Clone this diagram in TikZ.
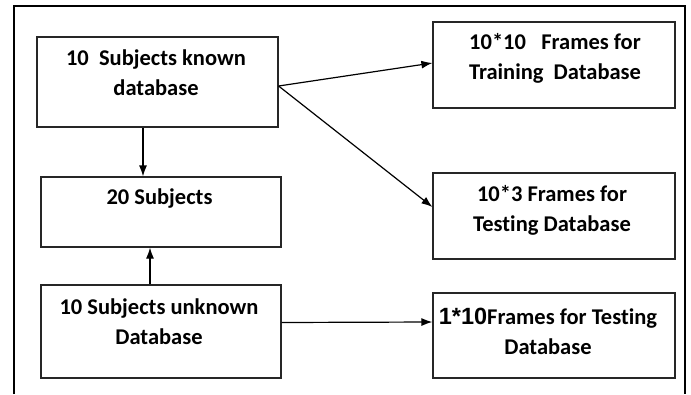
\documentclass[tikz,border=0pt]{standalone}
\usepackage{fontspec}
\setmainfont{Carlito}[Ligatures=NoCommon]
\newfontfamily\arialfont{Liberation Sans}
\usetikzlibrary{arrows.meta, positioning, calc}
\tikzset{
    %Define standard arrow tip
    >={Latex[length=11pt,width=8pt]},
    %Define style for boxes
    cadre/.style={
           rectangle,
           draw=black!85, line width=1.2pt,
           minimum width=241pt,
           minimum height=86pt},
    % Define style for the texts in the boxes
    texte/.style={
           inner sep=0pt,
           align=center,
           font=\bfseries\fontsize{22.5}{30}\selectfont},
    % Define arrow style
    fleche/.style={
           ->,
           line width=1.2pt}
}

\begin{document}
\begin{tikzpicture}[x=1pt, y=-1pt]
	\useasboundingbox (0,0) rectangle (691,394);
	% cadre exterieur
	\draw[line width=2.8pt] (14,394) -- (14,6) -- (685,6) -- (685,394);
	%
	% noeuds
	%
	\node[cadre, minimum height=90pt] (known) at (157.5,82) {};
	\node[cadre, minimum width=240pt, minimum height=70pt] (subj) at (161,212) {};
	\node[cadre, minimum width=240pt, minimum height=93pt] (unknown) at (161,331.5) {};
	\node[cadre, minimum width=242pt] (train) at (554,65) {};
	\node[cadre, minimum width=242pt] (test) at (554,216) {};
	\node[cadre, minimum width=242pt, minimum height=85pt] (testb) at (554,335.5) {};
	%
	% textes
	%
	\node[texte] (t-known) at ($(known)+(-1.5,-9.5)$) {10\ \ Subjects known\\database};
	\node[texte] (t-subj) at ($(subj)+(-1.5,-13)$) {20 Subjects};
	\node[texte] (t-unknown) at ($(unknown)+(-2,-9.5)$) {10 Subjects unknown\\Database};
	\node[texte] (t-train) at ($(train)+(1,-7)$) {10*10\ \ \ Frames for\\Training\ \ Database};
	\node[texte] (t-test) at ($(test)+(-2,-6)$) {10*3 Frames for\\Testing Database};
	\node[texte] (t-testb) at ($(testb)+(-6,-4.5)$) {{\arialfont\fontsize{23.5}{30}\selectfont 1*10}Frames for Testing\\Database};
	%
	% Liens
	%
	\coordinate (depart) at ($(known.east)+(0,4)$);
	\draw[fleche] (depart) to ($(train.west)+(0,-2)$);
	\draw[fleche] (depart) to ($(test.west)+(0,-9)$);
	\draw[fleche] ($(known.south)+(-14.5,0)$) to ($(subj.north)+(-18,0)$);
	\draw[fleche] ($(unknown.north)+(-11,0)$) to ($(subj.south)+(-11,0)$);
	\draw[fleche] ($(unknown.east)+(0,-9)$) to ($(testb.west)+(0,-13.5)$);
\end{tikzpicture}
\end{document}
